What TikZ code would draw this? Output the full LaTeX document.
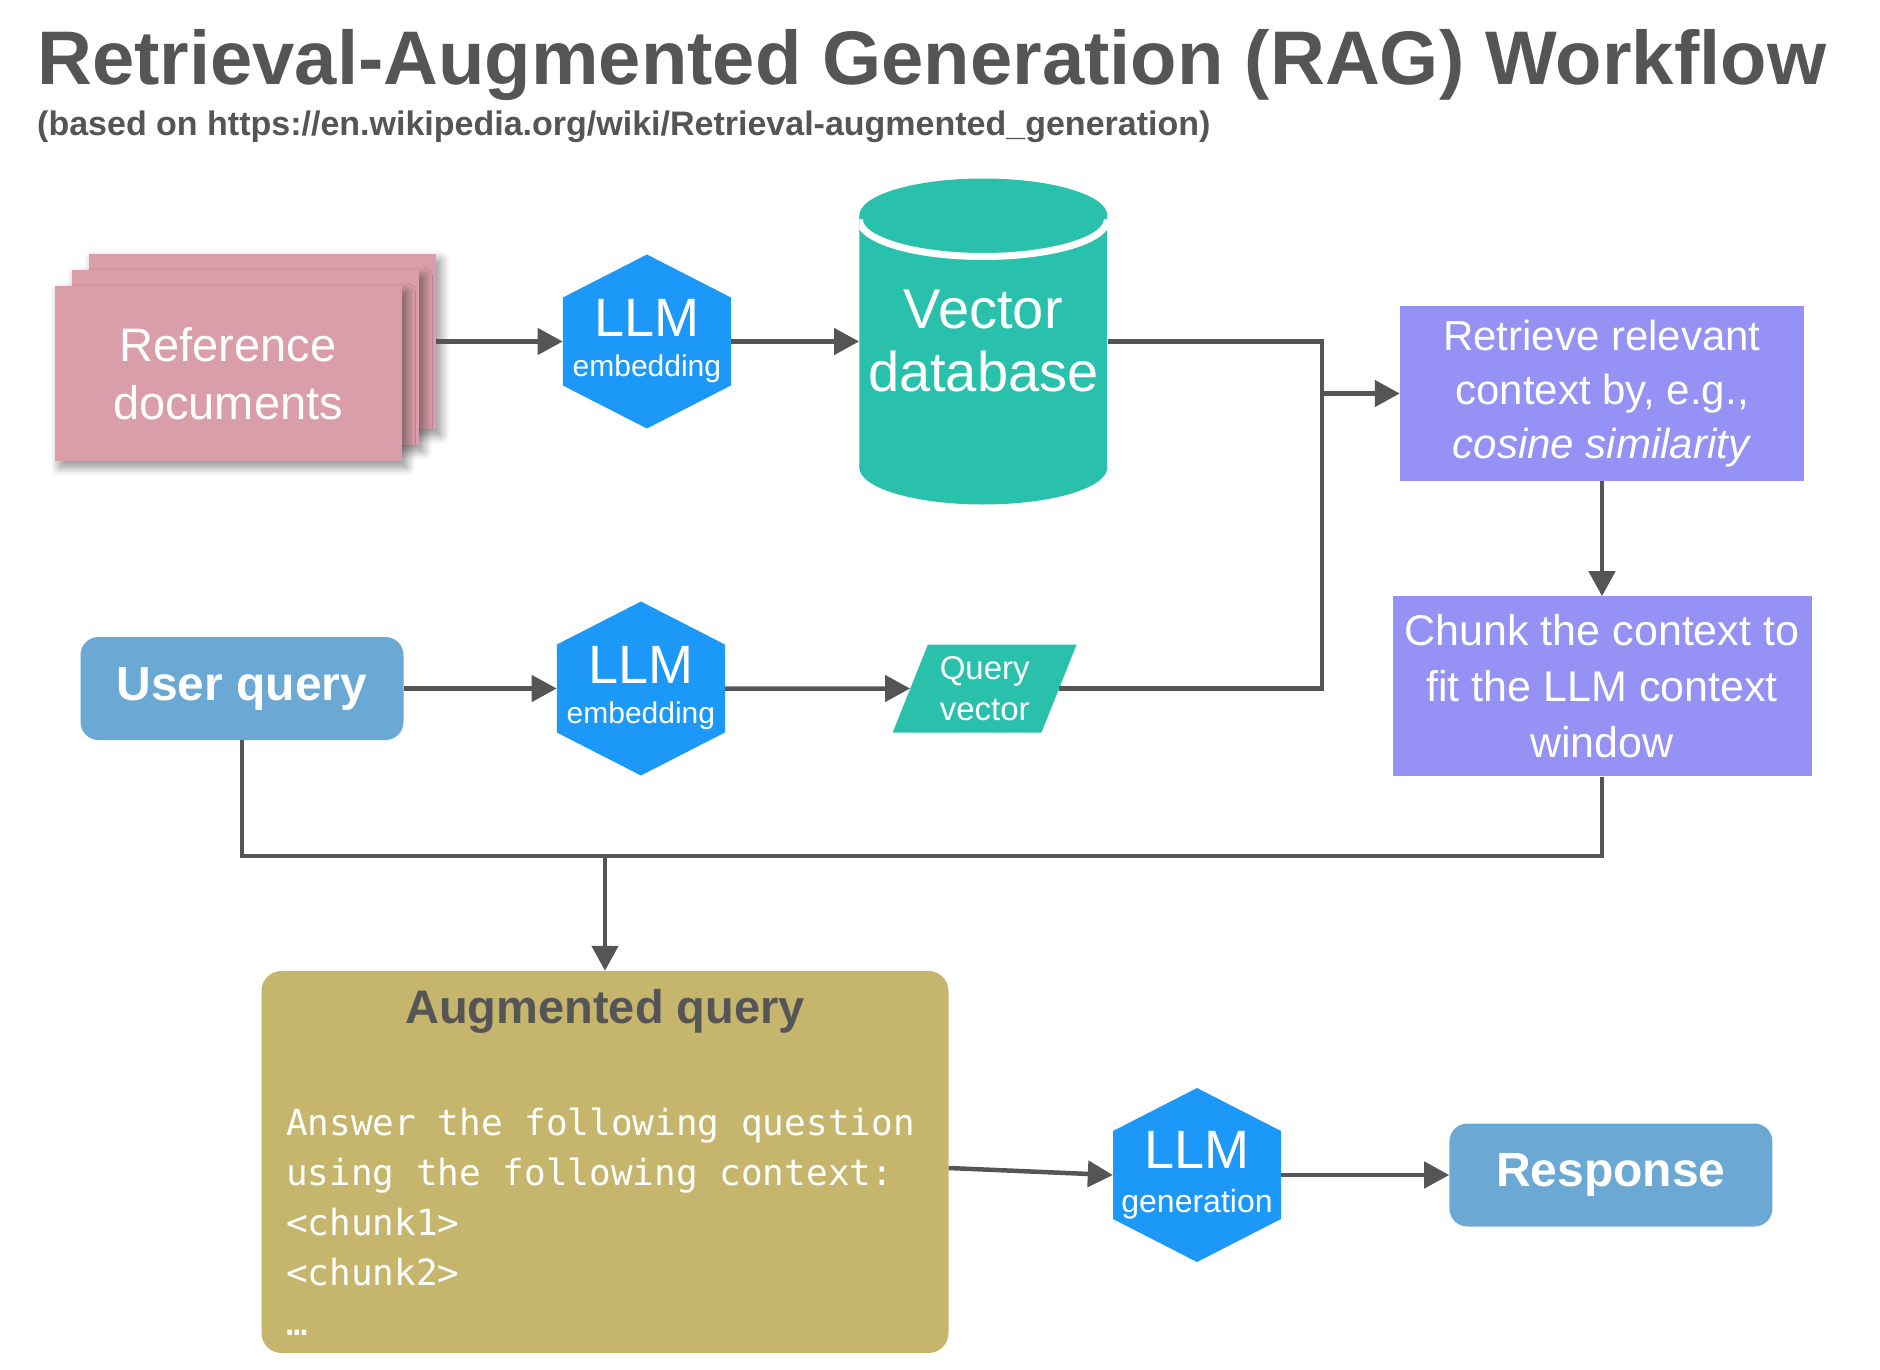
\documentclass[tikz,border=0pt]{standalone}
\usepackage{fontspec}
\setmainfont{Liberation Sans}
\setmonofont{DejaVu Sans Mono}
\usetikzlibrary{positioning, shapes.geometric, arrows.meta, shadows.blur}

\definecolor{inkgray}{HTML}{555555}
\definecolor{docpink}{HTML}{D99EAA}
\definecolor{llmblue}{HTML}{1B98F8}
\definecolor{dbteal}{HTML}{2AC1AC}
\definecolor{stepviolet}{HTML}{9591F5}
\definecolor{ioblue}{HTML}{6BA8D3}
\definecolor{augolive}{HTML}{C6B56D}

\begin{document}
\begin{tikzpicture}[x=1pt, y=-1pt]
    % Define styles
    \tikzstyle{doc} = [rectangle, minimum width=347pt, minimum height=175pt, inner sep=0pt, fill=docpink, text=white, align=center, font=\fontsize{47}{58}\selectfont, blur shadow={shadow xshift=5pt, shadow yshift=-6pt, shadow blur radius=9pt, shadow blur steps=10, shadow opacity=45}]
    \tikzstyle{llm} = [rectangle, minimum width=168pt, minimum height=174pt, inner sep=0pt, text=white, align=center, font=\fontsize{30}{40}\selectfont,
        path picture={\fill[llmblue] (path picture bounding box.north) -- ([yshift=-43pt]path picture bounding box.north east) -- ([yshift=43pt]path picture bounding box.south east) -- (path picture bounding box.south) -- ([yshift=43pt]path picture bounding box.south west) -- ([yshift=-43pt]path picture bounding box.north west) -- cycle;}]
    \tikzstyle{vecstore} = [rectangle, minimum width=248pt, minimum height=326pt, inner sep=0pt, text=white, align=center, font=\fontsize{56}{63}\selectfont,
        path picture={
            \coordinate (cyl) at (path picture bounding box.center);
            \fill[dbteal] ([shift={(-124,-126)}]cyl) rectangle ([shift={(124,126)}]cyl);
            \fill[dbteal] ([shift={(0,126)}]cyl) ellipse [x radius=124pt, y radius=37pt];
            \fill[dbteal] ([shift={(0,-126)}]cyl) ellipse [x radius=124pt, y radius=37pt];
            \draw[white, line width=7pt] ([shift={(-124,-122)}]cyl) arc [start angle=180, end angle=360, x radius=124pt, y radius=37pt];
        }]
    \tikzstyle{io} = [rectangle, rounded corners=18pt, minimum width=323pt, minimum height=103pt, inner sep=0pt, fill=ioblue, text=white, font=\fontsize{48}{56}\selectfont\bfseries]
    \tikzstyle{stepbox} = [rectangle, inner sep=0pt, fill=stepviolet, text=white, align=center]
    \tikzstyle{qvec} = [trapezium, trapezium left angle=66.6, trapezium right angle=113.4, trapezium stretches=true, minimum width=184pt, minimum height=88pt, inner sep=0pt, fill=dbteal, text=white, align=center, font=\fontsize{33}{41}\selectfont]
    \tikzstyle{augbox} = [rectangle, rounded corners=20pt, minimum width=687pt, minimum height=382pt, inner sep=0pt, fill=augolive]
    \tikzstyle{arrow} = [line width=4.5pt, draw=inkgray, -{Triangle[length=25pt, width=26pt]}]
    \tikzstyle{wire} = [line width=4.5pt, draw=inkgray]

    \useasboundingbox (0,0) rectangle (1880,1370);

    % Title
    \node [anchor=base west, inner sep=0pt, text=inkgray, font=\fontsize{76}{80}\selectfont\bfseries] (title) at (37,85) {Retrieval-Augmented Generation (RAG) Workflow};
    \node [anchor=base west, inner sep=0pt, text=inkgray, font=\fontsize{34}{40}\selectfont\bfseries] (source) at (37,136) {(based on https://en.wikipedia.org/wiki/Retrieval-augmented\_generation)};

    % Nodes
    \node [doc] (docs3) at (262,341.5) {};
    \node [doc] (docs2) at ([shift={(-17,16)}]docs3.center) {};
    \node [doc] (docs) at ([shift={(-17,16)}]docs2.center) {Reference\\documents};
    \node [llm, right=127pt of docs3] (embed1) {{\fontsize{54}{40}\selectfont LLM}\\embedding};
    \node [vecstore, right=128pt of embed1] (vecdb) {Vector\\database};

    \node [io] (user) at (242,688.5) {User query};
    \node [llm, right=153pt of user] (embed2) {{\fontsize{54}{40}\selectfont LLM}\\embedding};
    \node [qvec, right=185pt of embed2] (qv) {Query\\vector};

    \node [stepbox, minimum width=404pt, minimum height=175pt, font=\fontsize{42}{54}\selectfont] (retrieve) at (1602,393.5) {Retrieve relevant\\context by, e.g.,\\\textit{cosine similarity}};
    \node [stepbox, below=115pt of retrieve, minimum width=419pt, minimum height=180pt, font=\fontsize{43}{56}\selectfont] (chunk) {Chunk the context to\\fit the LLM context\\window};

    \node [augbox] (aug) at (605,1162) {};
    \node [below=18pt of aug.north, inner sep=0pt, text=inkgray, font=\fontsize{47}{56}\selectfont\bfseries] (augtitle) {Augmented query};
    \node [anchor=north west, inner sep=0pt, text=white, align=left, font=\ttfamily\fontsize{36}{50}\selectfont] (prompt) at (286,1108) {Answer the following question\\using the following context:\\<chunk1>\\<chunk2>\\…};
    \node [llm, font=\fontsize{32}{44}\selectfont] (gen) at (1197,1175) {{\fontsize{54}{44}\selectfont LLM}\\generation};
    \node [io, right=168pt of gen] (response) {Response};

    % Arrows
    \coordinate (merge) at (1322,393.5);
    \coordinate (bus) at (605,856);
    \draw [arrow] (docs3) -- (embed1);
    \draw [arrow] (embed1) -- (vecdb);
    \draw [wire] (vecdb.east) -| (merge) |- (qv.east);
    \draw [arrow] (merge) -- (retrieve);
    \draw [arrow] (user) -- (embed2);
    \draw [arrow] (embed2) -- (qv);
    \draw [arrow] (retrieve) -- (chunk);
    \draw [wire] (user.south) |- (bus) -| (chunk.south);
    \draw [arrow] (bus) -- (aug);
    \draw [arrow] ([yshift=-6pt]aug.east) -- (gen.west);
    \draw [arrow] (gen) -- (response);
\end{tikzpicture}
\end{document}
